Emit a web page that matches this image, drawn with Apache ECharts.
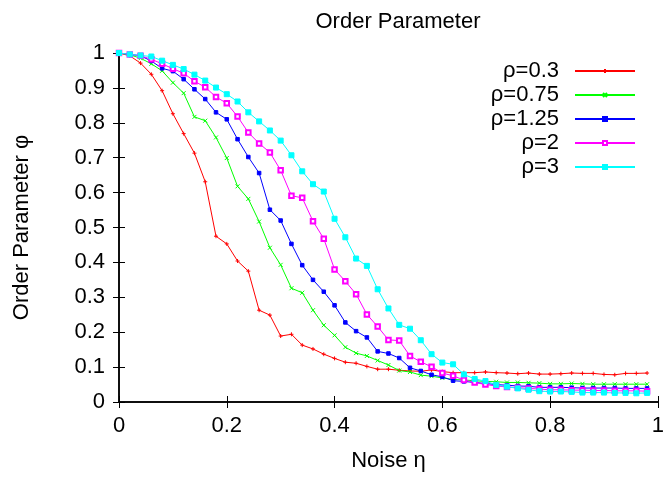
<!DOCTYPE html>
<html>
<head>
<meta charset="utf-8">
<script src="https://cdn.jsdelivr.net/npm/echarts@6/dist/echarts.min.js"></script>
<style>
    html, body { margin: 0; padding: 0; background: #fff; }
    #main { width: 667px; height: 477px; }
</style>
</head>
<body>
<div id="main"></div>
<script>
    // noise values (x) shared by every series
    const eta = [0, 0.02, 0.04, 0.06, 0.08, 0.1, 0.12, 0.14, 0.16, 0.18,
        0.2, 0.22, 0.24, 0.26, 0.28, 0.3, 0.32, 0.34, 0.36, 0.38,
        0.4, 0.42, 0.44, 0.46, 0.48, 0.5, 0.52, 0.54, 0.56, 0.58,
        0.6, 0.62, 0.64, 0.66, 0.68, 0.7, 0.72, 0.74, 0.76, 0.78,
        0.8, 0.82, 0.84, 0.86, 0.88, 0.9, 0.92, 0.94, 0.96, 0.98];

    const rho03 = [1.0, 0.992, 0.971, 0.939, 0.892, 0.826, 0.769, 0.713, 0.631, 0.475,
        0.453, 0.404, 0.375, 0.263, 0.249, 0.189, 0.194, 0.163, 0.152, 0.137,
        0.125, 0.114, 0.111, 0.102, 0.094, 0.094, 0.091, 0.089, 0.088, 0.092,
        0.087, 0.084, 0.084, 0.084, 0.086, 0.084, 0.083, 0.081, 0.083, 0.080,
        0.080, 0.081, 0.083, 0.082, 0.082, 0.079, 0.078, 0.082, 0.082, 0.083];

    const rho075 = [1.0, 0.995, 0.985, 0.969, 0.949, 0.915, 0.885, 0.817, 0.806, 0.758,
        0.699, 0.618, 0.582, 0.517, 0.442, 0.393, 0.326, 0.313, 0.263, 0.220,
        0.191, 0.157, 0.140, 0.132, 0.119, 0.106, 0.090, 0.086, 0.077, 0.074,
        0.069, 0.065, 0.063, 0.061, 0.059, 0.058, 0.056, 0.056, 0.055, 0.054,
        0.052, 0.052, 0.053, 0.052, 0.051, 0.051, 0.051, 0.051, 0.051, 0.051];

    const rho125 = [1.0, 0.996, 0.992, 0.977, 0.956, 0.948, 0.925, 0.896, 0.868, 0.830,
        0.810, 0.753, 0.702, 0.656, 0.551, 0.520, 0.453, 0.392, 0.350, 0.316,
        0.277, 0.228, 0.203, 0.185, 0.145, 0.139, 0.126, 0.098, 0.089, 0.078,
        0.072, 0.061, 0.059, 0.056, 0.053, 0.050, 0.048, 0.046, 0.045, 0.042,
        0.042, 0.042, 0.041, 0.040, 0.040, 0.040, 0.040, 0.039, 0.039, 0.039];

    const rho2 = [1.0, 0.996, 0.992, 0.982, 0.969, 0.955, 0.942, 0.919, 0.902, 0.874,
        0.856, 0.818, 0.772, 0.741, 0.715, 0.664, 0.591, 0.585, 0.518, 0.468,
        0.380, 0.346, 0.309, 0.251, 0.216, 0.178, 0.176, 0.132, 0.115, 0.101,
        0.083, 0.075, 0.063, 0.056, 0.050, 0.046, 0.043, 0.041, 0.039, 0.037,
        0.035, 0.035, 0.034, 0.034, 0.033, 0.033, 0.032, 0.032, 0.032, 0.031];

    const rho3 = [1.0, 0.996, 0.993, 0.990, 0.978, 0.966, 0.954, 0.938, 0.921, 0.901,
        0.882, 0.861, 0.830, 0.804, 0.778, 0.749, 0.707, 0.661, 0.624, 0.603,
        0.525, 0.472, 0.411, 0.390, 0.323, 0.268, 0.221, 0.210, 0.177, 0.137,
        0.113, 0.108, 0.079, 0.066, 0.060, 0.049, 0.044, 0.039, 0.035, 0.031,
        0.030, 0.030, 0.029, 0.027, 0.027, 0.027, 0.026, 0.026, 0.025, 0.026];

    const seriesNames = ['ρ=0.3', 'ρ=0.75', 'ρ=1.25', 'ρ=2', 'ρ=3'];
    const seriesValues = [rho03, rho075, rho125, rho2, rho3];

    const FONT = 'Liberation Sans';
    const colors = ['#ff0000', '#00ff00', '#0000ff', '#ff00ff', '#00ffff'];
    // gnuplot style point types: +, x, filled box, open box, filled box
    const symbols = [
        'path://M0,5L10,5M5,0L5,10',
        'path://M0,0L10,10M10,0L0,10',
        'rect',
        'emptyRect',
        'rect'
    ];
    const symbolSizes = [4, 4, 3.5, 4.5, 5];

    const chart = echarts.init(document.getElementById('main'));

    const series = seriesNames.map((name, i) => ({
        name: name,
        type: 'line',
        data: eta.map((x, j) => [x, seriesValues[i][j]]),
        symbol: symbols[i],
        symbolSize: symbolSizes[i],
        showAllSymbol: true,
        lineStyle: { width: 1, color: colors[i] },
        itemStyle: { color: colors[i], borderColor: colors[i], borderWidth: 1 },
        emphasis: { disabled: true }
    }));

    const frameAxis = {
        axisLine: { show: true, lineStyle: { color: '#000', width: 1.5 } },
        axisTick: { show: true, inside: true, length: 6, lineStyle: { color: '#000', width: 1 } },
        splitLine: { show: false }
    };

    const option = {
        animation: false,
        backgroundColor: '#fff',
        title: {
            text: 'Order Parameter',
            left: 393,
            top: 6,
            textAlign: 'center',
            textStyle: { fontFamily: FONT, fontSize: 22, fontWeight: 'normal', color: '#000' }
        },
        grid: { left: 119, right: 4, top: 53, bottom: 74, containLabel: false },
        legend: {
            orient: 'vertical',
            align: 'right',
            right: 31,
            top: 60,
            padding: 0,
            itemGap: 2,
            itemWidth: 60,
            itemHeight: 5,
            textStyle: { fontFamily: FONT, fontSize: 22, color: '#000', padding: [0, 11, 0, 0] },
            data: seriesNames
        },
        xAxis: [
            Object.assign({
                type: 'value', min: 0, max: 1, interval: 0.2, position: 'bottom',
                name: 'Noise η', nameLocation: 'middle', nameGap: 48,
                nameTextStyle: { fontFamily: FONT, fontSize: 22, color: '#000' },
                axisLabel: { fontFamily: FONT, fontSize: 22, color: '#000', margin: 13 }
            }, frameAxis),
            Object.assign({
                type: 'value', min: 0, max: 1, interval: 0.2, position: 'top',
                axisLabel: { show: false }
            }, frameAxis)
        ],
        yAxis: [
            Object.assign({
                type: 'value', min: 0, max: 1, interval: 0.1, position: 'left',
                name: 'Order Parameter φ', nameLocation: 'middle', nameGap: 86,
                nameTextStyle: { fontFamily: FONT, fontSize: 22, color: '#000' },
                axisLabel: { fontFamily: FONT, fontSize: 22, color: '#000', margin: 14 }
            }, frameAxis),
            Object.assign({
                type: 'value', min: 0, max: 1, interval: 0.1, position: 'right',
                axisLabel: { show: false }
            }, frameAxis)
        ],
        series: series
    };

    chart.setOption(option);
</script>
</body>
</html>
